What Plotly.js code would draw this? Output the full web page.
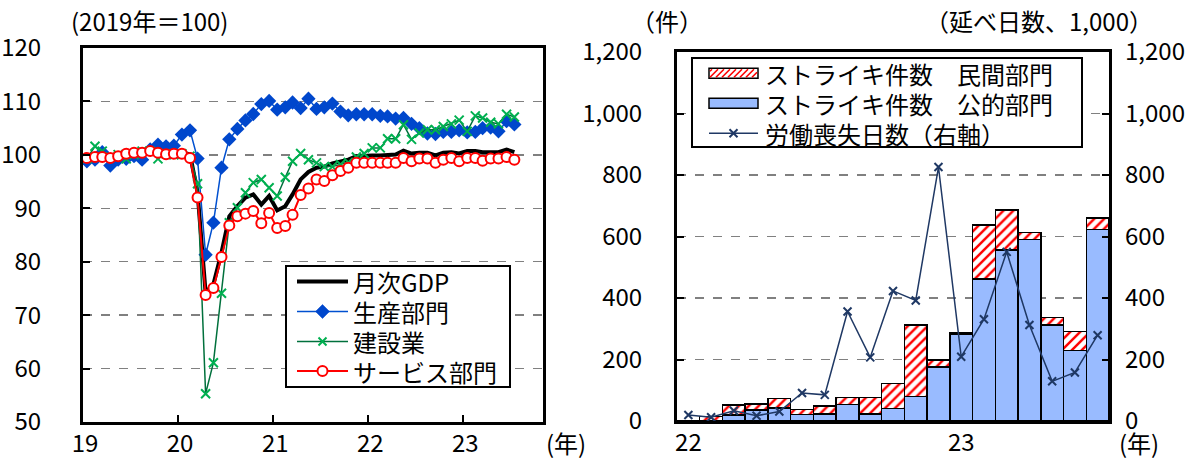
<!DOCTYPE html>
<html><head><meta charset="utf-8">
<script src="https://cdn.plot.ly/plotly-3.0.1.min.js"></script>
<style>html,body{margin:0;padding:0;background:#fff;} #chart{width:1192px;height:459px;}</style>
</head><body><div id="chart"></div>
<script>
const FONT = "'Noto Sans CJK JP', sans-serif";

// ---- Left chart: monthly indices (2019 = 100), Jan 2019 - Jul 2023
const gdp = [99.6, 99.7, 99.7, 99.6, 99.8, 100.1, 100.3, 100.4, 100.6, 100.4, 100.2, 100.3,
  100.4, 100.1, 93.0, 74.2, 75.8, 81.7, 88.5, 90.4, 92.0, 92.6, 90.7, 92.3,
  89.6, 90.4, 92.6, 95.4, 96.8, 97.6, 97.8, 98.4, 98.7, 99.1, 99.75, 99.9,
  99.9, 99.9, 99.9, 100.06, 100.8, 100.25, 100.4, 100.4, 99.9, 100.4, 100.5, 100.25,
  100.7, 100.7, 100.5, 100.5, 100.5, 101.0, 100.5];
const production = [98.8, 99.1, 100.5, 98.0, 99.1, 99.25, 99.75, 99.1, 101.0, 101.9, 101.6, 101.7,
  103.8, 104.6, 99.3, 81.3, 87.3, 97.6, 102.9, 104.85, 106.45, 107.65, 109.5, 110.1,
  108.45, 108.9, 109.8, 108.75, 110.5, 108.6, 108.9, 109.6, 108.1, 107.4, 107.6, 107.6,
  107.6, 107.3, 107.2, 106.8, 106.9, 105.8, 105.0, 104.0, 103.9, 104.3, 104.3, 104.6,
  104.2, 104.3, 105.0, 105.1, 104.4, 106.3, 105.7];
const construction = [99.3, 101.6, 100.7, 99.6, 100.05, 99.25, 100.05, 100.7, 100.7, 99.25, 100.2, 100.0,
  100.2, 99.75, 94.6, 55.3, 61.1, 74.1, 87.3, 90.1, 92.9, 94.8, 95.4, 93.85,
  92.3, 95.8, 98.8, 100.25, 99.1, 98.5, 97.8, 97.8, 98.2, 98.6, 99.6, 100.25,
  101.3, 101.3, 103.0, 103.0, 105.65, 102.9, 104.1, 104.7, 104.7, 105.3, 105.8, 106.5,
  104.4, 107.3, 106.9, 106.1, 105.8, 107.6, 107.1];
const services = [99.4, 99.6, 99.6, 99.4, 99.75, 100.2, 100.4, 100.4, 100.7, 100.4, 100.1, 100.2,
  100.2, 99.4, 92.0, 73.75, 75.1, 80.9, 86.8, 88.5, 89.0, 89.5, 87.2, 89.1,
  86.3, 86.7, 88.8, 92.5, 93.7, 95.4, 95.1, 96.2, 97.0, 97.6, 98.5, 98.5,
  98.5, 98.5, 98.5, 98.5, 99.4, 98.8, 99.3, 99.3, 98.5, 99.1, 99.4, 98.8,
  99.4, 99.4, 98.9, 99.3, 99.3, 99.6, 99.1];
const leftYearTicks = ['2019-01-01', '2020-01-01', '2021-01-01', '2022-01-01', '2023-01-01'];
const leftYearLabels = ['19', '20', '21', '22', '23'];
const leftNames = ['月次GDP', '生産部門', '建設業', 'サービス部門'];

// ---- Right chart: strikes (count) and working days lost (thousands), Jan 2022 - Jul 2023
const strikeMonths = ['2022-01', '2022-02', '2022-03', '2022-04', '2022-05', '2022-06', '2022-07', '2022-08',
  '2022-09', '2022-10', '2022-11', '2022-12', '2023-01', '2023-02', '2023-03', '2023-04', '2023-05',
  '2023-06', '2023-07'];
const strikesPublic = [0, 0, 19, 36, 43, 21, 22, 53, 23, 41, 79, 176, 282, 462, 556, 591, 312, 230, 622];
const strikesPrivate = [0, 15, 33, 20, 30, 17, 27, 24, 54, 81, 234, 22, 4, 176, 130, 22, 25, 61, 38];
const daysLost = [19.5, 12, 33.5, 17, 31, 91, 85, 356, 207, 423, 392, 826, 209, 331, 550, 312, 129, 158, 279];
const rightTickCats = ['2022-01', '2023-01'];
const rightTickLabels = ['22', '23'];
const rightNames = ['ストライキ件数　民間部門', 'ストライキ件数　公的部門', '労働喪失日数（右軸）'];

const monthDates = gdp.map((_, i) => {
  const y = 2019 + Math.floor(i / 12), m = (i % 12) + 1;
  return y + '-' + String(m).padStart(2, '0') + '-16';
});

const W = 1192, H = 459;
const px = v => v / W, py = v => 1 - v / H;

const C = {
  gdp: '#000000', prodLine: '#0050D0', prodMark: '#0047CC',
  consLine: '#00703C', consMark: '#00B050', serv: '#FF0000',
  pub: '#99BBFF', hatch: '#FF0000', days: '#1F3864'
};

const traces = [
  {x: monthDates, y: gdp, name: leftNames[0], type: 'scatter', mode: 'lines',
   line: {color: C.gdp, width: 4}, xaxis: 'x', yaxis: 'y'},
  {x: monthDates, y: production, name: leftNames[1], type: 'scatter', mode: 'lines+markers',
   line: {color: C.prodLine, width: 1.5}, marker: {symbol: 'diamond', size: 11, color: C.prodMark},
   xaxis: 'x', yaxis: 'y'},
  {x: monthDates, y: construction, name: leftNames[2], type: 'scatter', mode: 'lines+markers',
   line: {color: C.consLine, width: 1.5}, marker: {symbol: 'x-thin', size: 9, line: {color: C.consMark, width: 2}},
   xaxis: 'x', yaxis: 'y'},
  {x: monthDates, y: services, name: leftNames[3], type: 'scatter', mode: 'lines+markers',
   line: {color: C.serv, width: 2}, marker: {symbol: 'circle', size: 10, color: '#FFFFFF', line: {color: C.serv, width: 2}},
   xaxis: 'x', yaxis: 'y'},
  {x: strikeMonths, y: strikesPublic, name: rightNames[1], type: 'bar',
   marker: {color: C.pub, line: {color: '#000000', width: 1.5}}, xaxis: 'x2', yaxis: 'y2'},
  {x: strikeMonths, y: strikesPrivate, name: rightNames[0], type: 'bar',
   marker: {color: '#FFFFFF', line: {color: '#000000', width: 1.5},
            pattern: {shape: '/', fgcolor: C.hatch, bgcolor: '#FFFFFF', size: 7, solidity: 0.35}},
   xaxis: 'x2', yaxis: 'y2'},
  {x: strikeMonths, y: daysLost, name: rightNames[2], type: 'scatter', mode: 'lines+markers',
   line: {color: C.days, width: 1.5}, marker: {symbol: 'x-thin', size: 8, line: {color: C.days, width: 2}},
   xaxis: 'x2', yaxis: 'y3'}
];

const gridStyle = {showgrid: true, gridcolor: '#808080', gridwidth: 1.5, griddash: 'dash'};
const frame = {showline: true, linecolor: '#000000', linewidth: 3, mirror: true};
const tf = {family: FONT, size: 24, color: '#000000'};
const lf = {family: FONT, size: 24, color: '#000000'};

// ---- legend drawing helpers (pixel positions -> paper)
function seg(x0, y0, x1, y1, color, width) {
  return {type: 'line', xref: 'paper', yref: 'paper', x0: px(x0), y0: py(y0), x1: px(x1), y1: py(y1),
          line: {color: color, width: width}, layer: 'above'};
}
function rect(x0, y0, x1, y1, fill, lc, lw) {
  return {type: 'rect', xref: 'paper', yref: 'paper', x0: px(x0), y0: py(y1), x1: px(x1), y1: py(y0),
          fillcolor: fill, line: {color: lc, width: lw}, layer: 'above'};
}
function pathShape(d, fill, lc, lw) {
  return {type: 'path', xref: 'paper', yref: 'paper', path: d, fillcolor: fill,
          line: {color: lc, width: lw}, layer: 'above'};
}
function diamond(cx, cy, r, color) {
  const d = 'M' + px(cx + r) + ',' + py(cy) + 'L' + px(cx) + ',' + py(cy - r) + 'L' + px(cx - r) + ',' + py(cy) +
            'L' + px(cx) + ',' + py(cy + r) + 'Z';
  return pathShape(d, color, color, 0.5);
}
function xMark(cx, cy, r, color, w) {
  const d = 'M' + px(cx - r) + ',' + py(cy - r) + 'L' + px(cx + r) + ',' + py(cy + r) +
            'M' + px(cx - r) + ',' + py(cy + r) + 'L' + px(cx + r) + ',' + py(cy - r);
  return pathShape(d, 'rgba(0,0,0,0)', color, w);
}
function circ(cx, cy, r, fill, lc, lw) {
  return {type: 'circle', xref: 'paper', yref: 'paper', x0: px(cx - r), x1: px(cx + r), y0: py(cy + r), y1: py(cy - r),
          fillcolor: fill, line: {color: lc, width: lw}, layer: 'above'};
}
function hatch(x0, x1, yTop, yBot, step, color) {
  const h = yBot - yTop; let d = '';
  for (let s = x0 - h + 2; s < x1; s += step) {
    let ax = s, ay = yBot, bx = s + h, by = yTop;
    if (ax < x0) { ay = yBot - (x0 - ax); ax = x0; }
    if (bx > x1) { by = yTop + (bx - x1); bx = x1; }
    if (bx - ax < 1.5) continue;
    d += 'M' + px(ax) + ',' + py(ay) + 'L' + px(bx) + ',' + py(by);
  }
  return pathShape(d, 'rgba(0,0,0,0)', color, 1.6);
}

// left legend
const LL = {x0: 286, x1: 510, y0: 266, y1: 387, s0: 297, s1: 348, tx: 352, rows: [281.5, 311.5, 341.5, 371]};
// right legend
const RL = {x0: 692, x1: 1082, y0: 58, y1: 147, s0: 709, s1: 758, tx: 764, rows: [73.3, 103.3, 133.3]};
const lcx = (LL.s0 + LL.s1) / 2, rcx = (RL.s0 + RL.s1) / 2;

const shapes = [
  rect(LL.x0, LL.y0, LL.x1, LL.y1, '#FFFFFF', '#000000', 2),
  seg(LL.s0, LL.rows[0], LL.s1, LL.rows[0], C.gdp, 4),
  seg(LL.s0, LL.rows[1], LL.s1, LL.rows[1], C.prodLine, 1.5),
  diamond(lcx, LL.rows[1], 7, C.prodMark),
  seg(LL.s0, LL.rows[2], LL.s1, LL.rows[2], C.consLine, 1.5),
  xMark(lcx, LL.rows[2], 4, C.consMark, 2),
  seg(LL.s0, LL.rows[3], LL.s1, LL.rows[3], C.serv, 2),
  circ(lcx, LL.rows[3], 5, '#FFFFFF', C.serv, 2),
  rect(RL.x0, RL.y0, RL.x1, RL.y1, '#FFFFFF', '#000000', 2),
  rect(RL.s0, RL.rows[0] - 5, RL.s1, RL.rows[0] + 5, '#FFFFFF', '#000000', 1.5),
  hatch(RL.s0 + 1, RL.s1 - 1, RL.rows[0] - 4, RL.rows[0] + 4, 6, C.hatch),
  rect(RL.s0, RL.rows[1] - 5, RL.s1, RL.rows[1] + 5, C.pub, '#000000', 1.5),
  seg(RL.s0, RL.rows[2], RL.s1, RL.rows[2], C.days, 1.5),
  xMark(rcx, RL.rows[2], 4, C.days, 2)
];

function note(text, x, y, anchor, font) {
  return {text: text, x: px(x), y: py(y), xref: 'paper', yref: 'paper', showarrow: false,
          xanchor: anchor || 'center', yanchor: 'middle', font: font || tf, borderpad: 0};
}
const annotations = [
  note('(2019年＝100)', 149, 20),
  note('（件）', 667, 20),
  note('（延べ日数、1,000）', 1039, 20),
  note('(年)', 566, 442),
  note('(年)', 1139, 442)
];
leftNames.forEach((n, i) => annotations.push(note(n, LL.tx, LL.rows[i], 'left', lf)));
rightNames.forEach((n, i) => annotations.push(note(n, RL.tx, RL.rows[i], 'left', lf)));

const layout = {
  width: W, height: H,
  margin: {l: 0, r: 0, t: 0, b: 0},
  paper_bgcolor: '#FFFFFF', plot_bgcolor: '#FFFFFF',
  font: {family: FONT, size: 24, color: '#000000'},
  showlegend: false,
  barmode: 'stack', bargap: 0,
  xaxis: Object.assign({}, frame, {
    domain: [px(83), px(543)], type: 'date', range: ['2019-01-01', '2023-11-03'],
    tickmode: 'array', tickvals: leftYearTicks, ticktext: leftYearLabels,
    ticks: 'inside', ticklen: 7, tickwidth: 2, tickcolor: '#000000',
    showgrid: false, tickfont: tf, ticklabelshift: 2, ticklabelstandoff: -2,
    zeroline: false, automargin: false, anchor: 'y'
  }),
  yaxis: Object.assign({}, frame, gridStyle, {
    domain: [py(422), py(48)], range: [50, 120], dtick: 10, tick0: 50,
    ticks: 'inside', ticklen: 7, tickwidth: 2, tickcolor: '#000000',
    tickfont: tf, ticklabelstandoff: 34, zeroline: false, automargin: false, anchor: 'x'
  }),
  xaxis2: Object.assign({}, frame, {
    domain: [px(677), px(1109)], type: 'category', range: [-0.5, 18.5],
    tickmode: 'array', tickvals: rightTickCats, ticktext: rightTickLabels,
    ticks: '', showgrid: false, tickfont: tf, ticklabelstandoff: -2,
    automargin: false, anchor: 'y2'
  }),
  yaxis2: Object.assign({}, frame, gridStyle, {
    domain: [py(421), py(52)], range: [0, 1200], dtick: 200, tickformat: ',',
    ticks: 'inside', ticklen: 7, tickwidth: 2, tickcolor: '#000000',
    tickfont: tf, ticklabelstandoff: 27, zeroline: false, automargin: false, anchor: 'x2'
  }),
  yaxis3: {
    overlaying: 'y2', side: 'right', anchor: 'x2', range: [0, 1200], dtick: 200, tickformat: ',',
    showgrid: false, showline: false, ticks: 'inside', ticklen: 7, tickwidth: 2, tickcolor: '#000000',
    tickfont: tf, ticklabelstandoff: 15, zeroline: false, automargin: false
  },
  shapes: shapes,
  annotations: annotations
};

Plotly.newPlot('chart', traces, layout, {staticPlot: true});
</script>
</body></html>
